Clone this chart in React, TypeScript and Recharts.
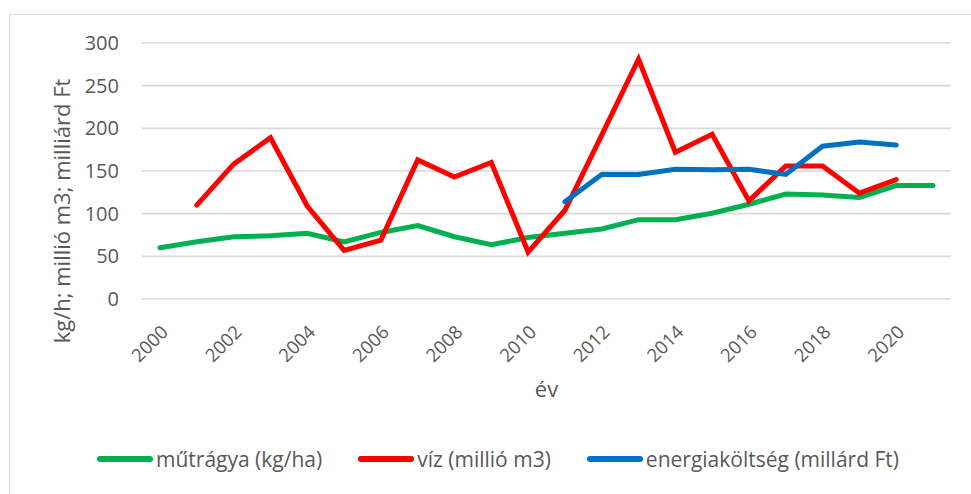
import React from "react";
import { LineChart, Line, XAxis, YAxis, CartesianGrid, Legend } from "recharts";

const years = [2000, 2001, 2002, 2003, 2004, 2005, 2006, 2007, 2008, 2009, 2010, 2011, 2012, 2013, 2014, 2015, 2016, 2017, 2018, 2019, 2020, 2021];
const mutragya = [60, 67, 73, 74, 77, 67, 78, 86, 73, 63.5, 72, 77, 82, 93, 93, 100.5, 111, 123, 122, 119, 133, 133];
const viz: (number | null)[] = [null, 110, 158, 189, 109, 57, 69, 163, 143, 160, 55, 104, 192, 281, 172, 193, 115, 156, 156, 124, 140, null];
const energia: (number | null)[] = [null, null, null, null, null, null, null, null, null, null, null, 114, 146, 146, 152, 151.5, 152, 146, 179, 184, 180.5, null];
const yTicks = [0, 50, 100, 150, 200, 250, 300];

const seriesNames = ["műtrágya (kg/ha)", "víz (millió m3)", "energiaköltség (millárd Ft)"];
const colors = ["#00B050", "#FF0000", "#0070C0"];
const keys = ["mutragya", "viz", "energia"];

const data = years.map((y, i) => ({
  year: y,
  mutragya: mutragya[i],
  viz: viz[i],
  energia: energia[i],
}));

const FONT = "'Open Sans', 'DejaVu Sans', sans-serif";
const TEXT = "#595959";

const LegendContent = () => (
  <div
    style={{
      display: "flex",
      justifyContent: "center",
      alignItems: "center",
      height: 40,
      paddingLeft: 45,
      fontFamily: FONT,
      fontSize: 21,
      color: TEXT,
    }}
  >
    {seriesNames.map((n, i) => (
      <div key={n} style={{ display: "flex", alignItems: "center", marginRight: i < 2 ? 36 : 0 }}>
        <svg width={56} height={8} style={{ marginRight: 3 }}>
          <line x1={3} y1={4} x2={53} y2={4} stroke={colors[i]} strokeWidth={6} strokeLinecap="round" />
        </svg>
        <span>{n}</span>
      </div>
    ))}
  </div>
);

const YLabel = (props: any) => {
  const vb = props.viewBox;
  const cx = vb.x + 61;
  const cy = vb.y + vb.height / 2 + 40;
  return (
    <text
      x={cx}
      y={cy}
      transform={`rotate(-90, ${cx}, ${cy})`}
      textAnchor="middle"
      dominantBaseline="central"
      fontFamily={FONT}
      fontSize={22}
      fill={TEXT}
    >
      kg/h; millió m3; milliárd Ft
    </text>
  );
};

const XLabel = (props: any) => {
  const vb = props.viewBox;
  return (
    <text
      x={vb.x + vb.width / 2}
      y={vb.y + 89}
      textAnchor="middle"
      dominantBaseline="central"
      fontFamily={FONT}
      fontSize={22}
      fill={TEXT}
    >
      év
    </text>
  );
};

export default function App() {
  return (
    <div style={{ position: "absolute", left: 0, top: 0, width: 971, height: 494, background: "#fff", overflow: "hidden" }}>
      <div
        style={{
          position: "absolute",
          left: 9,
          top: 14,
          width: 990,
          height: 520,
          border: "1.5px solid #d9d9d9",
        }}
      />
      <LineChart width={971} height={494} data={data} margin={{ top: 43, right: 20, bottom: 15, left: 0 }}>
        <CartesianGrid vertical={false} stroke="#d9d9d9" strokeWidth={1.6} />
        <XAxis
          dataKey="year"
          interval={1}
          axisLine={false}
          tickLine={false}
          tickSize={0}
          tickMargin={25}
          height={140}
          padding={{ left: 18, right: 18 }}
          tick={{ angle: -45, textAnchor: "end", verticalAnchor: "middle", fontFamily: FONT, fontSize: 18.5, fill: TEXT } as any}
          label={<XLabel />}
        />
        <YAxis
          domain={[0, 300]}
          ticks={yTicks}
          width={142}
          axisLine={false}
          tickLine={false}
          tickSize={0}
          tickMargin={23}
          tick={{ fontFamily: FONT, fontSize: 20, fill: TEXT }}
          label={<YLabel />}
        />
        <Legend verticalAlign="bottom" content={<LegendContent />} />
        {keys.map((k, i) => (
          <Line
            key={k}
            type="linear"
            dataKey={k}
            name={seriesNames[i]}
            stroke={colors[i]}
            strokeWidth={5}
            strokeLinecap="round"
            strokeLinejoin="miter"
            dot={false}
            activeDot={false}
            isAnimationActive={false}
          />
        ))}
      </LineChart>
    </div>
  );
}
